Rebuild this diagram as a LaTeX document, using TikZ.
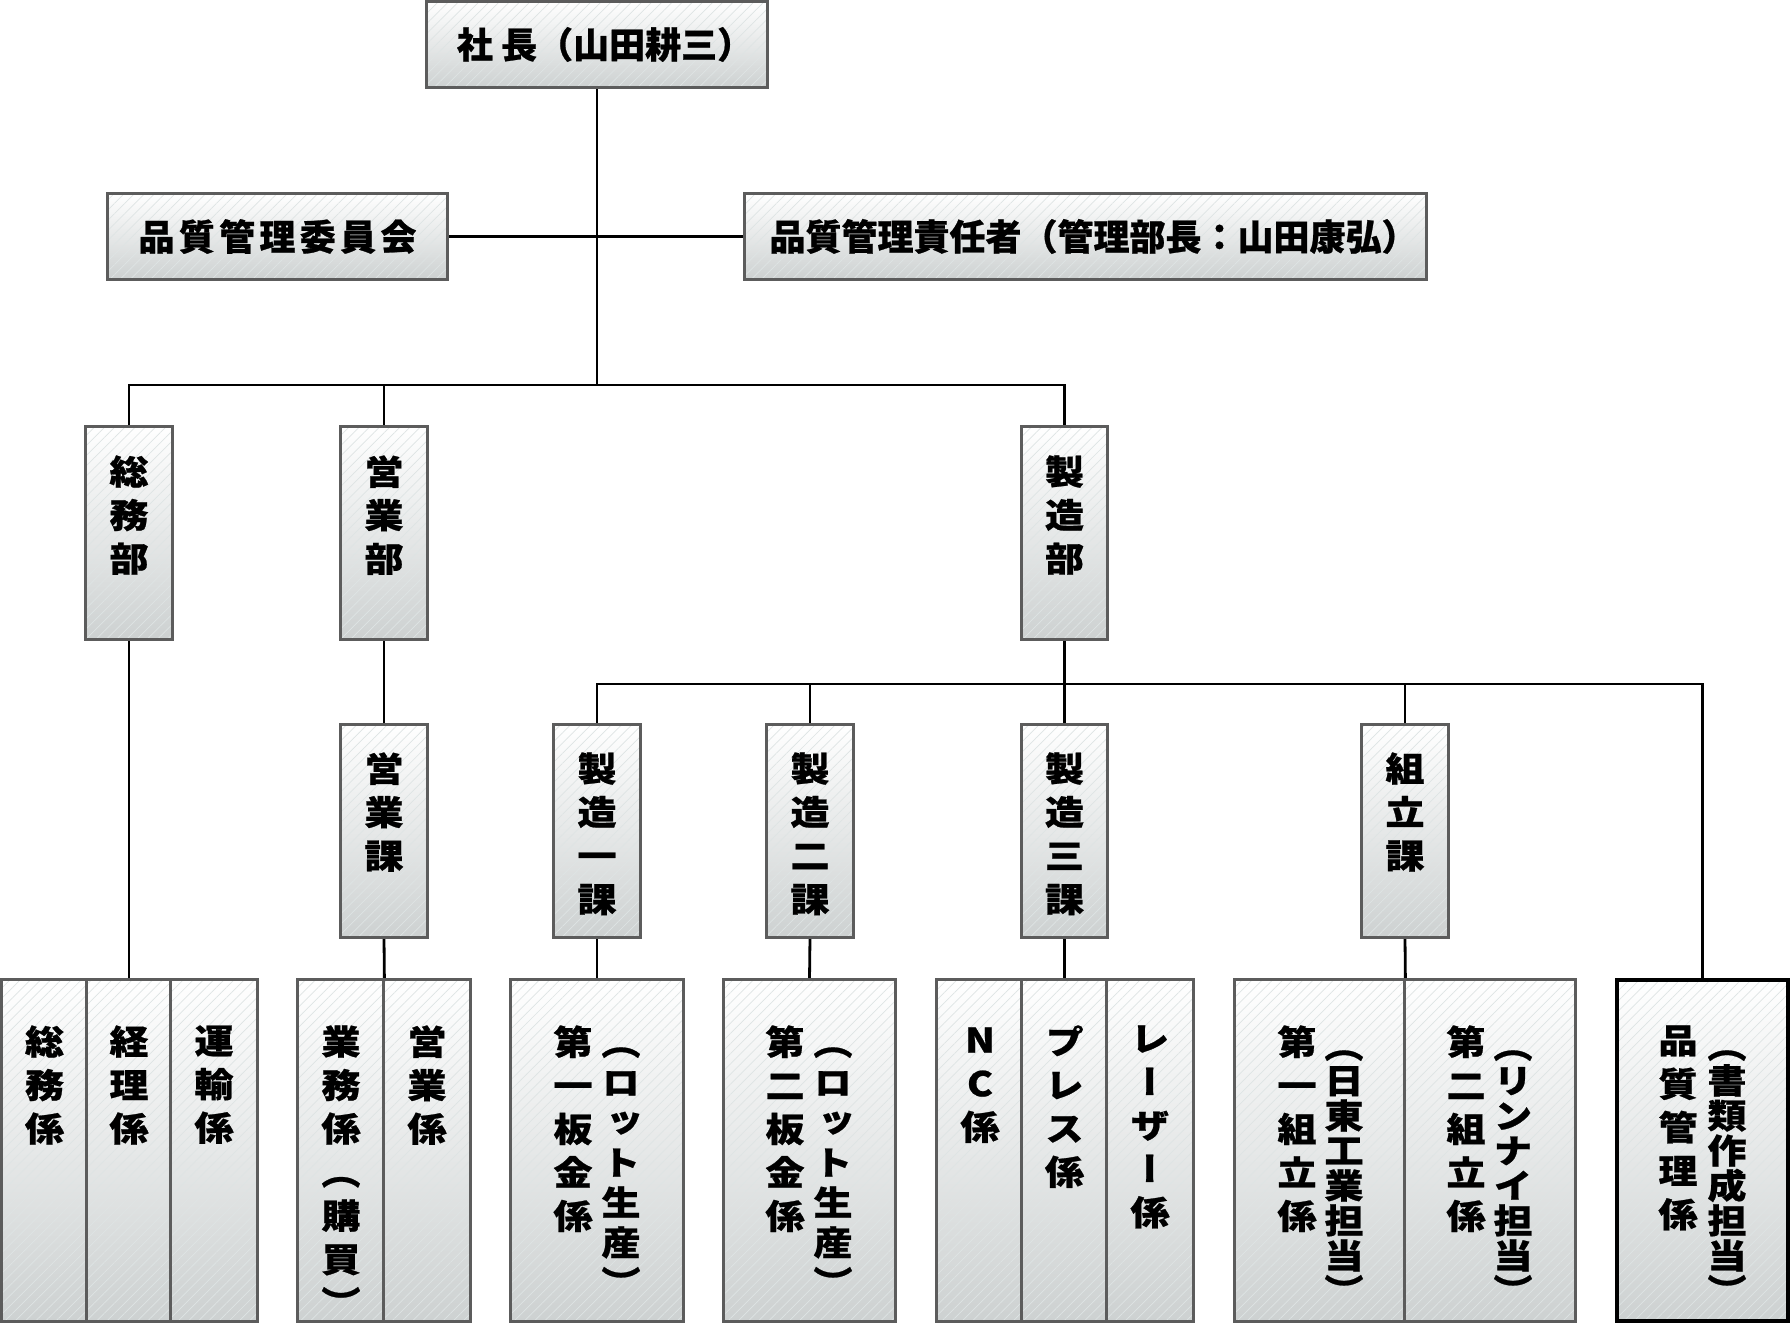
\documentclass[tikz,border=0pt]{standalone}
\usepackage{fontspec}
\setmainfont{Noto Sans CJK JP}
\newfontfamily\hjp{Noto Sans CJK JP}[FakeBold=0.7]
\newfontfamily\vjp{Noto Sans CJK JP}[RawFeature=+vert, FakeStretch=1.15, FakeBold=0.7]
\usetikzlibrary{fit,patterns.meta}
\definecolor{boxline}{RGB}{92,92,92}
\definecolor{boxbot}{RGB}{205,209,209}
\definecolor{hatch}{RGB}{222,228,228}
\begin{document}
\begin{tikzpicture}[x=0.5pt,y=-0.5pt,
  box/.style={draw=boxline, line width=1.5pt, inner sep=0pt,
    top color=white, bottom color=boxbot,
    path picture={\fill[pattern={Lines[angle=45,distance=3.6pt,line width=0.35pt]}, pattern color=hatch]
      (path picture bounding box.south west) rectangle (path picture bounding box.north east);}},
  qbox/.style={box, draw=black, line width=2pt},
  conn/.style={line width=1.4pt, black},
  htxt/.style={font=\hjp\fontsize{18}{22}\selectfont\bfseries, inner sep=0pt},
  vtxt/.style={font=\vjp\fontsize{17}{21.75}\selectfont\bfseries, align=center, anchor=north, inner sep=0pt},
  vtight/.style={vtxt, font=\vjp\fontsize{17}{17.5}\selectfont\bfseries},
  vmid/.style={vtxt, font=\vjp\fontsize{17}{20}\selectfont\bfseries}
]
\useasboundingbox (0,0) rectangle (1790,1326);

% junction coordinates
\coordinate (bus1) at (597,385);
\coordinate (bus2) at (1064.5,684);

% ---------- boxes (geometry) ----------
\node[fit={(427,2)(767,87)}, inner sep=0pt] (shacho) {};
\node[fit={(108,194)(447,279)}, inner sep=0pt] (iinkai) {};
\node[fit={(745,194)(1426,279)}, inner sep=0pt] (sekinin) {};
\node[fit={(86,427)(172,639)}, inner sep=0pt] (somubu) {};
\node[fit={(341,427)(427,639)}, inner sep=0pt] (eigyobu) {};
\node[fit={(1022,427)(1107,639)}, inner sep=0pt] (seizobu) {};
\node[fit={(341,725)(427,937)}, inner sep=0pt] (eigyoka) {};
\node[fit={(554,725)(640,937)}, inner sep=0pt] (ka1) {};
\node[fit={(767,725)(853,937)}, inner sep=0pt] (ka2) {};
\node[fit={(1022,725)(1107,937)}, inner sep=0pt] (ka3) {};
\node[fit={(1362,725)(1448,937)}, inner sep=0pt] (kumika) {};
\node[fit={(2,980)(87,1321)}, inner sep=0pt] (somu) {};
\node[fit={(87,980)(171,1321)}, inner sep=0pt] (keiri) {};
\node[fit={(171,980)(257,1321)}, inner sep=0pt] (unyu) {};
\node[fit={(298,980)(384,1321)}, inner sep=0pt] (gyomu) {};
\node[fit={(384,980)(470,1321)}, inner sep=0pt] (eigyo) {};
\node[fit={(511,980)(683,1321)}, inner sep=0pt] (ban1) {};
\node[fit={(724,980)(895,1321)}, inner sep=0pt] (ban2) {};
\node[fit={(937,980)(1022,1321)}, inner sep=0pt] (nc) {};
\node[fit={(1022,980)(1107,1321)}, inner sep=0pt] (press) {};
\node[fit={(1107,980)(1193,1321)}, inner sep=0pt] (laser) {};
\node[fit={(1235,980)(1405,1321)}, inner sep=0pt] (kumi1) {};
\node[fit={(1405,980)(1575,1321)}, inner sep=0pt] (kumi2) {};
\node[fit={(1617,980)(1788,1321)}, inner sep=0pt] (hin) {};

% ---------- connectors ----------
\draw[conn] (shacho.south) -- (bus1);
\draw[conn] (iinkai.east) -- (sekinin.west);
\draw[conn] (somubu.north) -- (somubu.north |- bus1) -- (seizobu.north |- bus1) -- (seizobu.north);
\draw[conn] (eigyobu.north) -- (eigyobu.north |- bus1);
\draw[conn] (somubu.south) -- (keiri.north);
\draw[conn] (eigyobu.south) -- (eigyoka.north);
\draw[conn] (eigyoka.south) -- (gyomu.north east);
\draw[conn] (seizobu.south) -- (ka3.north);
\draw[conn] (ka1.north) -- (ka1.north |- bus2) -- (hin.north |- bus2) -- (hin.north);
\draw[conn] (ka2.north) -- (ka2.north |- bus2);
\draw[conn] (kumika.north) -- (kumika.north |- bus2);
\draw[conn] (ka1.south) -- (ban1.north);
\draw[conn] (ka2.south) -- (ban2.north);
\draw[conn] (ka3.south) -- (press.north);
\draw[conn] (kumika.south) -- (kumi1.north east);

% ---------- drawn boxes ----------
\foreach \n in {shacho,iinkai,sekinin,somubu,eigyobu,seizobu,eigyoka,ka1,ka2,ka3,kumika,
  somu,keiri,unyu,gyomu,eigyo,ban1,ban2,nc,press,laser,kumi1,kumi2}
  \path[box] (\n.north west) rectangle (\n.south east);
\path[qbox] (hin.north west) rectangle (hin.south east);

% ---------- texts ----------
\node[htxt] (t-shacho) at ([xshift=4pt]shacho.center) {社 長（山田耕三）};
\node[htxt] (t-iinkai) at (iinkai.center) {\addfontfeature{LetterSpace=12}品質管理委員会};
\node[htxt] (t-sekinin) at ([xshift=4pt]sekinin.center) {品質管理責任者（管理部長：山田康弘）};

\node[vtxt] (t-somubu) at (129,455) {総\\務\\部};
\node[vtxt] (t-eigyobu) at (384,455) {営\\業\\部};
\node[vtxt] (t-seizobu) at (1064.5,455) {製\\造\\部};

\node[vtxt] (t-eigyoka) at (384,752) {営\\業\\課};
\node[vtxt] (t-ka1) at (597,752) {製\\造\\一\\課};
\node[vtxt] (t-ka2) at (810,752) {製\\造\\二\\課};
\node[vtxt] (t-ka3) at (1064.5,752) {製\\造\\三\\課};
\node[vtxt] (t-kumika) at (1405,752) {組\\立\\課};

\node[vtxt] (t-somu) at (44.5,1025) {総\\務\\係};
\node[vtxt] (t-keiri) at (129,1025) {経\\理\\係};
\node[vtxt] (t-unyu) at (214,1025) {運\\輸\\係};
\node[vtxt] (t-gyomu) at (341,1025) {業\\務\\係\\（\\購\\買\\）};
\node[vtxt] (t-eigyo) at (427,1025) {営\\業\\係};
\node[vtxt] (t-ban1a) at (573,1025) {第\\一\\板\\金\\係};
\node[vmid] (t-ban1b) at (621,1047) {（\\ロ\\ッ\\ト\\生\\産\\）};
\node[vtxt] (t-ban2a) at (785,1025) {第\\二\\板\\金\\係};
\node[vmid] (t-ban2b) at (833,1047) {（\\ロ\\ッ\\ト\\生\\産\\）};
\node[vtxt] (t-nc) at (980,1027) {N\\C\\係};
\node[vtxt] (t-press) at (1064.5,1025) {プ\\レ\\ス\\係};
\node[vtxt] (t-laser) at (1150,1025) {レ\\ー\\ザ\\ー\\係};
\node[vtxt] (t-kumi1a) at (1297,1025) {第\\一\\組\\立\\係};
\node[vtight] (t-kumi1b) at (1344,1050) {（\\日\\東\\工\\業\\担\\当\\）};
\node[vtxt] (t-kumi2a) at (1466,1025) {第\\二\\組\\立\\係};
\node[vtight] (t-kumi2b) at (1513,1050) {（\\リ\\ン\\ナ\\イ\\担\\当\\）};
\node[vtxt] (t-hina) at (1678,1025) {品\\質\\管\\理\\係};
\node[vtight] (t-hinb) at (1727,1050) {（\\書\\類\\作\\成\\担\\当\\）};
\end{tikzpicture}
\end{document}
